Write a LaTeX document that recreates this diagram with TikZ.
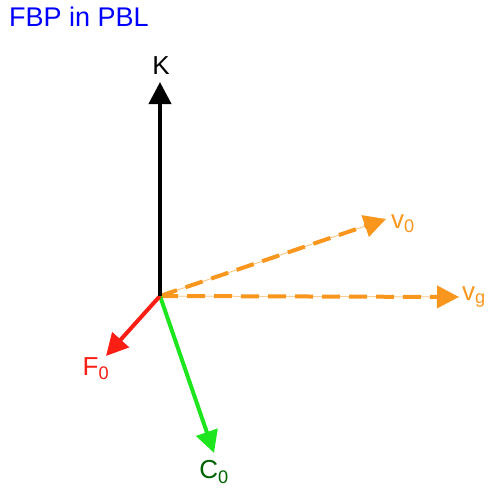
\documentclass[tikz,border=0pt]{standalone}
\usepackage{fontspec}
\setmainfont{Liberation Sans}
\usepackage{xcolor}
\usetikzlibrary{positioning,arrows.meta}
\definecolor{vorange}{RGB}{248,150,30}
\definecolor{vgreen}{RGB}{30,230,30}
\definecolor{cgreen}{RGB}{0,100,0}
\definecolor{fred}{RGB}{250,30,20}
\tikzset{
vec/.style={-{Triangle[length=22pt,width=22pt]},line width=4pt},
dvec/.style={vec,dash pattern=on 18pt off 9pt,draw=vorange,fill=vorange},
guide/.style={line width=1pt,draw=vorange!40},
lbl/.style={font=\fontsize{26}{28}\selectfont,inner sep=0pt}
}

\begin{document}
\begin{tikzpicture}[x=1pt,y=-1pt]
\useasboundingbox (0,0) rectangle (491,490);
\node[anchor=west,inner sep=0pt,text=blue,font=\fontsize{27}{30}\selectfont] (title) at (9,17) {FBP in PBL};
\coordinate (o) at (160,296);
\coordinate (k) at (160,82);
\coordinate (v0) at (386,219);
\coordinate (vg) at (459,297);
\coordinate (f0) at (106,356);
\coordinate (c0) at (214,453);
\node[lbl] (klbl) at (161,66) {K};
\node[lbl,anchor=west,text=vorange] (v0lbl) at (391,224) {v\textsubscript{0}};
\node[lbl,anchor=west,text=vorange] (vglbl) at (462,297) {v\textsubscript{g}};
\node[lbl,text=fred] (f0lbl) at (96,369) {F\textsubscript{0}};
\node[lbl,text=cgreen] (c0lbl) at (214,472) {C\textsubscript{0}};
% guide lines under the dashed vectors
\foreach \t in {v0,vg} \draw[guide](o)--(\t);
\draw[dvec](o)--(v0);
\draw[dvec](o)--(vg);
\draw[vec,draw=vgreen,fill=vgreen](o)--(c0);
\draw[vec,draw=fred,fill=fred](o)--(f0);
\draw[vec,black](o)--(k);
\end{tikzpicture}
\end{document}
